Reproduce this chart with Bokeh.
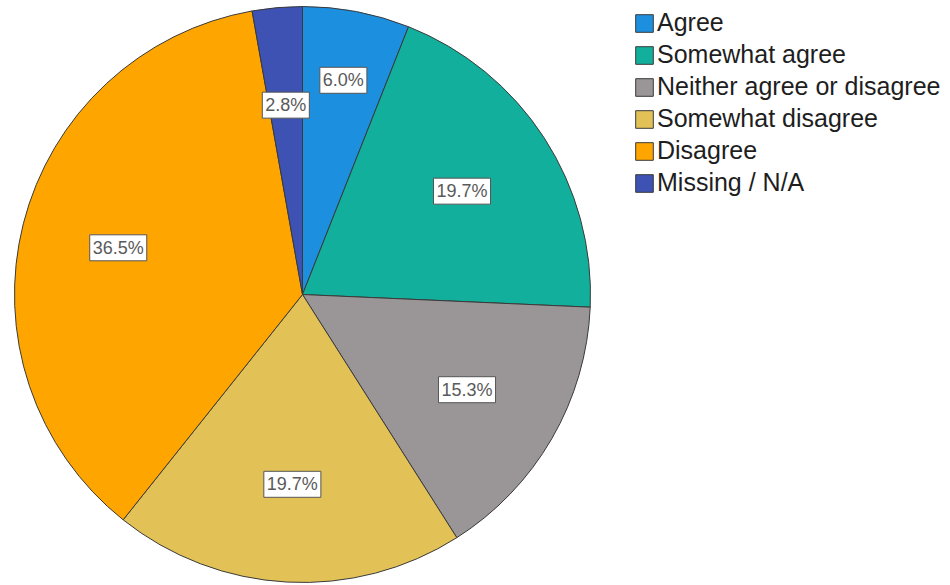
import math
from bokeh.plotting import figure
from bokeh.models import ColumnDataSource, Range1d, Legend, LegendItem
from bokeh.core.properties import value
from bokeh.embed import file_html
from bokeh.resources import INLINE

categories = ["Agree", "Somewhat agree", "Neither agree or disagree",
              "Somewhat disagree", "Disagree", "Missing / N/A"]
percents = [6.0, 19.7, 15.3, 19.7, 36.5, 2.8]
colors = ["#1c8fdf", "#12b09c", "#9a9698", "#e2c256", "#ffa500", "#3d52b2"]

W, H = 950, 585
CX, CY, R = 302, H - 294, 288
FS = 18  # label font size in px

total = sum(percents)
starts, ends, mids, texts = [], [], [], []
cum = 0.0
for v in percents:
    a0 = math.pi / 2 - 2 * math.pi * (cum + v) / total
    a1 = math.pi / 2 - 2 * math.pi * cum / total
    starts.append(a0)
    ends.append(a1)
    mids.append((a0 + a1) / 2)
    texts.append(f"{v:.1f}%")
    cum += v

# label radii, pushed outward when boxes would crowd each other
radii = [0.66 * R] * len(percents)
bw = [len(t) * FS * 0.6 + 8 for t in texts]
bh = FS + 6
GAP = 14


def pos(i):
    return CX + radii[i] * math.cos(mids[i]), CY + radii[i] * math.sin(mids[i])


for _ in range(200):
    moved = False
    n = len(texts)
    for i in range(n):
        j = (i - 1) % n
        xi, yi = pos(i)
        xj, yj = pos(j)
        if abs(xi - xj) < (bw[i] + bw[j]) / 2 + GAP and abs(yi - yj) < bh:
            radii[i] += 2
            moved = True
    if not moved:
        break

lx = [pos(i)[0] for i in range(len(texts))]
ly = [pos(i)[1] for i in range(len(texts))]

src = ColumnDataSource(dict(cat=categories, pct=percents, color=colors,
                            start=starts, end=ends, lx=lx, ly=ly, txt=texts))

p = figure(width=W, height=H, x_range=Range1d(0, W), y_range=Range1d(0, H),
           output_backend="svg", toolbar_location=None, min_border=0,
           outline_line_color=None, background_fill_color="white",
           border_fill_color="white")
p.axis.visible = False
p.grid.visible = False

wr = p.wedge(x=CX, y=CY, radius=R, start_angle="start", end_angle="end",
             fill_color="color", line_color="#3a3a3a", line_width=1, source=src)

p.text(x="lx", y="ly", text="txt", source=src, text_align="center",
       text_baseline="middle", text_font=value("Liberation Sans"),
       text_font_size=f"{FS}px", text_color="#5a5a5a",
       background_fill_color="white", border_line_color="#555555",
       border_line_width=1, padding=3)

items = [LegendItem(label=c, renderers=[wr], index=i) for i, c in enumerate(categories)]
legend = Legend(items=items, location=(633, 387), orientation="vertical",
                glyph_width=22, glyph_height=22, label_height=31, spacing=1,
                padding=0, margin=0, label_standoff=2,
                label_text_font="Liberation Sans", label_text_font_size="25px",
                label_text_color="#1e1e1e", background_fill_alpha=0,
                border_line_color=None)
p.add_layout(legend)

open("out.html", "w").write(file_html(p, INLINE))
